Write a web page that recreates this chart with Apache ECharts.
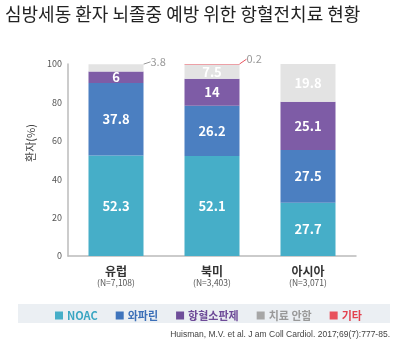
<!DOCTYPE html>
<html><head><meta charset="utf-8">
<script src="https://cdn.jsdelivr.net/npm/echarts@6/dist/echarts.min.js"></script>
<style>html,body{margin:0;padding:0;background:#fff}#c{width:400px;height:344px}</style>
</head><body><div id="c"></div>
<script>
const regions = ['유럽', '북미', '아시아'];
const sampleSizes = ['(N=7,108)', '(N=3,403)', '(N=3,071)'];
const seriesNames = ['NOAC', '와파린', '항혈소판제', '치료 안함', '기타'];
const noac = [52.3, 52.1, 27.7];
const warfarin = [37.8, 26.2, 27.5];
const antiplatelet = [6, 14, 25.1];
const noTreatment = [3.8, 7.5, 19.8];
const other = [0, 0.2, 0];
const yTicks = [0, 20, 40, 60, 80, 100];

const colors = ['#46AEC8', '#4B7FC1', '#7E5CA6', '#E3E3E3', '#E8515C'];
const legendText = ['#3AA6C2', '#3B6FB8', '#6E4B98', '#999999', '#E3414E'];
const legendIcon = ['#46AEC8', '#3F74BC', '#6F4E9A', '#A6A6A6', '#E8515C'];
const FONT = '"Noto Sans CJK KR", "Noto Sans", sans-serif';

const inLabel = {show: true, position: 'inside', color: '#fff', fontSize: 13, fontWeight: 'bold', fontFamily: FONT};

function mk(i, values, extra) {
  return Object.assign({
    name: seriesNames[i], type: 'bar', stack: 'a', barWidth: 55,
    itemStyle: {color: colors[i]},
    label: inLabel,
    data: values
  }, extra || {});
}

const chart = echarts.init(document.getElementById('c'), null, {renderer: 'canvas'});
chart.setOption({
  animation: false,
  textStyle: {fontFamily: FONT},
  title: {text: '심방세동 환자 뇌졸중 예방 위한 항혈전치료 현황', left: 0, top: 0,
    textStyle: {fontSize: 18, fontWeight: 'normal', color: '#222', fontFamily: FONT}},
  graphic: [
    {type: 'rect', shape: {x: 18, y: 304, width: 372, height: 19}, style: {fill: '#EBEFF3'}, z: 0},
    {type: 'text', right: 10, top: 330, style: {text: 'Huisman, M.V. et al. J am Coll Cardiol. 2017;69(7):777-85.', fill: '#444', font: '8.5px "Liberation Sans", sans-serif'}}
  ],
  legend: {
    left: 50, top: 305, z: 5, icon: 'rect', itemWidth: 8, itemHeight: 8, itemGap: 18,
    textStyle: {fontSize: 11, fontWeight: 'bold', fontFamily: FONT, padding: [0, 0, 0, -1]},
    data: seriesNames.map((n, i) => ({name: n, itemStyle: {color: legendIcon[i]}, textStyle: {color: legendText[i]}}))
  },
  grid: {left: 68, right: 44, top: 64, bottom: 88},
  xAxis: {
    type: 'category', data: regions,
    axisLine: {lineStyle: {color: '#BBBBBB', width: 1.5}},
    axisTick: {show: false},
    axisLabel: {
      margin: 8,
      formatter: (v, i) => '{a|' + v + '}\n{b|' + sampleSizes[i] + '}',
      rich: {
        a: {fontSize: 12, fontWeight: 'bold', color: '#333', lineHeight: 14, fontFamily: FONT},
        b: {fontSize: 8.5, color: '#555', lineHeight: 10, fontFamily: FONT}
      }
    }
  },
  yAxis: {
    type: 'value', min: yTicks[0], max: yTicks[yTicks.length - 1], interval: 20,
    name: '환자(%)', nameLocation: 'middle', nameGap: 21, nameRotate: 90,
    nameTextStyle: {fontSize: 11, color: '#444', padding: [0, 0, 0, 34]},
    axisLine: {show: true, lineStyle: {color: '#BBBBBB', width: 1.5}},
    axisTick: {show: false},
    splitLine: {show: false},
    axisLabel: {fontSize: 9, color: '#555', margin: 6}
  },
  series: [
    mk(0, noac),
    mk(1, warfarin),
    mk(2, antiplatelet),
    mk(3, noTreatment.map((v, i) => i === 0 ? {
        value: v,
        label: {show: true, position: 'right', color: '#999', fontSize: 11, fontWeight: 'normal'},
        labelLine: {show: true, lineStyle: {color: '#999', width: 1}}
      } : v), {
      labelLayout: p => p.dataIndex === 0 ? {dx: 2, dy: -6} : {},
      labelLine: {show: false}
    }),
    mk(4, other.map(v => v > 0 ? {
        value: v,
        label: {show: true, position: 'right', color: '#999', fontSize: 11, fontWeight: 'normal'},
        labelLine: {show: true, lineStyle: {color: '#E8515C', width: 1}}
      } : {value: v, label: {show: false}}), {
      labelLayout: p => p.dataIndex === 1 ? {dx: 2, dy: -5} : {}
    })
  ]
});
</script></body></html>
